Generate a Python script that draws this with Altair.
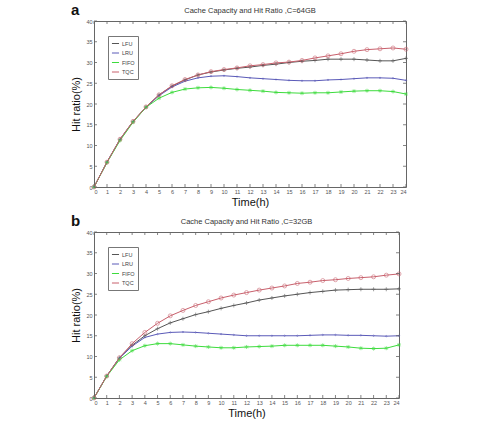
import altair as alt
import pandas as pd

# Hours of the day (x axis) and tick values
hours = list(range(0, 25))
y_ticks = [0, 5, 10, 15, 20, 25, 30, 35, 40]
series = ["LFU", "LRU", "FIFO", "TQC"]
colors = ["#555555", "#5a5ab8", "#3ddc3d", "#c8606c"]

# Hit ratio (%) with cache capacity C = 64GB
lfu_64 = [0, 6.0, 11.5, 15.8, 19.3, 22.2, 24.3, 25.8, 27.0, 27.7, 28.2, 28.6, 28.9,
          29.3, 29.6, 30.0, 30.3, 30.5, 30.8, 30.8, 30.8, 30.6, 30.4, 30.4, 31.0]
lru_64 = [0, 6.0, 11.4, 15.7, 19.2, 22.0, 24.1, 25.5, 26.3, 26.7, 26.8, 26.6, 26.3,
          26.1, 25.9, 25.7, 25.6, 25.6, 25.8, 25.9, 26.1, 26.3, 26.3, 26.2, 25.7]
fifo_64 = [0, 5.9, 11.2, 15.6, 19.2, 21.4, 22.8, 23.6, 23.9, 24.0, 23.8, 23.5, 23.3,
           23.1, 22.8, 22.7, 22.6, 22.7, 22.7, 22.9, 23.1, 23.2, 23.2, 23.0, 22.4]
tqc_64 = [0, 6.0, 11.5, 15.8, 19.3, 22.2, 24.4, 25.9, 27.0, 27.8, 28.3, 28.7, 29.2,
          29.5, 29.9, 30.1, 30.5, 31.1, 31.6, 32.1, 32.7, 33.1, 33.3, 33.5, 33.2]

# Hit ratio (%) with cache capacity C = 32GB
lfu_32 = [0, 5.3, 9.7, 12.7, 15.0, 16.7, 18.1, 19.1, 20.1, 20.8, 21.6, 22.3, 22.9,
          23.6, 24.1, 24.6, 25.0, 25.4, 25.7, 26.0, 26.1, 26.2, 26.2, 26.2, 26.3]
lru_32 = [0, 5.3, 9.6, 12.5, 14.6, 15.4, 15.8, 15.9, 15.8, 15.6, 15.4, 15.2, 15.0,
          15.0, 15.0, 15.0, 15.0, 15.1, 15.2, 15.2, 15.1, 15.1, 15.0, 14.9, 15.0]
fifo_32 = [0, 5.2, 9.2, 11.4, 12.6, 13.1, 13.1, 12.8, 12.5, 12.3, 12.1, 12.1, 12.3,
           12.4, 12.5, 12.7, 12.7, 12.7, 12.7, 12.5, 12.3, 12.0, 11.9, 12.0, 12.8]
tqc_32 = [0, 5.3, 9.7, 13.1, 15.8, 18.0, 19.8, 21.1, 22.3, 23.2, 24.1, 24.8, 25.4,
          26.0, 26.5, 27.0, 27.6, 27.9, 28.3, 28.5, 28.8, 29.0, 29.2, 29.6, 29.9]

# MATLAB-like markers: '+', '.', '*', 'o'
marker_paths = [
    "M-1,0L1,0M0,-1L0,1",
    "M-0.35,0A0.35,0.35 0 1,0 0.35,0A0.35,0.35 0 1,0 -0.35,0",
    "M-1,0L1,0M0,-1L0,1M-0.7,-0.7L0.7,0.7M-0.7,0.7L0.7,-0.7",
    "circle",
]

FONT = "Liberation Sans"


def long_table(values):
    rows = []
    for name, vals in zip(series, values):
        for h, v in zip(hours, vals):
            rows.append({"hour": h, "ratio": v, "algo": name})
    return pd.DataFrame(rows)


def panel(values, title, letter, w, h):
    df = long_table(values)
    x_scale = alt.Scale(domain=[0, 24], nice=False)
    y_scale = alt.Scale(domain=[0, 40], nice=False)
    color_scale = alt.Scale(domain=series, range=colors)

    x_axis = alt.Axis(values=hours, title="Time(h)", grid=False, ticks=False,
                      domain=False, labelFontSize=5.5, labelColor="#555",
                      labelPadding=2, labelOverlap=False, titleFontSize=11,
                      titleFont=FONT, titleFontWeight="normal", titlePadding=2,
                      titleColor="#111", labelFont=FONT)
    y_axis = alt.Axis(values=y_ticks, title="Hit ratio(%)", grid=False, ticks=False,
                      domain=False, labelFontSize=5.5, labelColor="#555",
                      labelPadding=2, labelOverlap=False, titleFontSize=11,
                      titleFont=FONT, titleFontWeight="normal", titlePadding=4,
                      titleColor="#111", labelFont=FONT)
    # the same axis spec on every layer so that the merged axis keeps it
    x_enc = alt.X("hour:Q", scale=x_scale, axis=x_axis)
    y_enc = alt.Y("ratio:Q", scale=y_scale, axis=y_axis)

    lines = alt.Chart(df).mark_line(strokeWidth=1, clip=True).encode(
        x=x_enc,
        y=y_enc,
        color=alt.Color(
            "algo:N", scale=color_scale,
            legend=alt.Legend(
                title=None, orient="none", legendX=14, legendY=15,
                symbolType="stroke", symbolSize=50, symbolStrokeWidth=1,
                labelFontSize=5.5, labelFont=FONT, labelColor="#444",
                labelOffset=2, rowPadding=1.5, padding=3,
                strokeColor="#777", fillColor="white",
            ),
        ),
        detail="algo:N",
    )
    points = alt.Chart(df).mark_point(size=16, filled=False, strokeWidth=0.8).encode(
        x=x_enc,
        y=y_enc,
        color=alt.Color("algo:N", scale=color_scale, legend=None),
        shape=alt.Shape("algo:N", scale=alt.Scale(domain=series, range=marker_paths),
                        legend=None),
    )

    # inward tick marks on all four sides of the frame
    xt = pd.DataFrame({"hour": hours})
    yt = pd.DataFrame({"ratio": y_ticks})
    tick_color = "#666"
    xb = alt.Chart(xt).mark_rule(color=tick_color, strokeWidth=0.8).encode(
        x=x_enc, y=alt.value(h), y2=alt.value(h - 3))
    xtop = alt.Chart(xt).mark_rule(color=tick_color, strokeWidth=0.8).encode(
        x=x_enc, y=alt.value(0), y2=alt.value(3))
    yl = alt.Chart(yt).mark_rule(color=tick_color, strokeWidth=0.8).encode(
        y=y_enc, x=alt.value(0), x2=alt.value(3))
    yr = alt.Chart(yt).mark_rule(color=tick_color, strokeWidth=0.8).encode(
        y=y_enc, x=alt.value(w), x2=alt.value(w - 3))

    # panel letter and heading above the frame
    tag = alt.Chart(pd.DataFrame({"t": [letter]})).mark_text(
        font=FONT, fontSize=15, fontWeight="bold", align="left",
        baseline="alphabetic", color="#111",
    ).encode(text="t:N", x=alt.value(-23), y=alt.value(-6))
    heading = alt.Chart(pd.DataFrame({"t": [title]})).mark_text(
        font=FONT, fontSize=7.5, align="center", baseline="alphabetic", color="#333",
    ).encode(text="t:N", x=alt.value(w / 2), y=alt.value(-8))

    return alt.layer(lines, points, xb, xtop, yl, yr, tag, heading).properties(
        width=w, height=h,
    )


top = panel([lfu_64, lru_64, fifo_64, tqc_64],
            "Cache Capacity and Hit Ratio ,C=64GB", "a", 312, 166)
bottom = panel([lfu_32, lru_32, fifo_32, tqc_32],
               "Cache Capacity and Hit Ratio ,C=32GB", "b", 305, 166)

chart = alt.vconcat(top, bottom, spacing=5).resolve_scale(color="independent").properties(
    padding={"left": 70, "top": 2, "right": 5, "bottom": 0},
    background="white",
).configure_view(stroke="#666", strokeWidth=1)

chart.save("out.html", embed_options={"renderer": "svg", "actions": False})
